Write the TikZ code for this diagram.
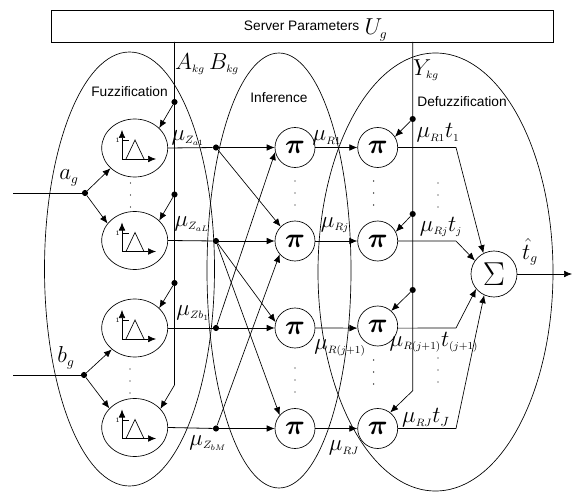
\documentclass[tikz,border=0pt]{standalone}
\usepackage{amsmath}
\usepackage[no-math]{fontspec}
\setmainfont{Liberation Sans}
\usetikzlibrary{arrows.meta,shapes.geometric}
\DeclareMathSizes{17.28}{17.28}{8}{6}
\newcommand{\bigsub}[1]{\mbox{\fontsize{10}{10}\selectfont$#1$}}

\tikzset{
  conn/.style={line width=0.5pt,-{Latex[length=6pt,width=5pt]}},
  wire/.style={line width=0.6pt},
  junction/.style={circle,fill=black,inner sep=0pt,minimum size=4.6pt},
  fuzzcell/.style={ellipse,draw,line width=0.5pt,inner sep=0pt,minimum width=49.5pt,minimum height=43.5pt},
  picell/.style={circle,draw,line width=0.5pt,inner sep=0pt,minimum size=30pt,font=\fontsize{20.74}{22}\selectfont},
  zone/.style={line width=0.5pt},
  lab/.style={inner sep=0pt,font=\fontsize{17.28}{18}\selectfont},
  title/.style={inner sep=0pt,font=\fontsize{10.3}{12}\selectfont},
  vdots/.style={fill=black,circle,inner sep=0pt,minimum size=1.1pt},
  pics/membfn/.style={code={
      \draw[conn] (-12.7,11) -- (-12.7,-18);
      \draw[conn] (-12.7,11) -- (21.3,11);
      \draw[line width=0.5pt] (-12.7,-7.5) -- (-5.7,-7.5);
      \draw[line width=0.5pt] (-8.7,11) -- (0.3,-8) -- (9.3,11);
      \node[inner sep=0pt,font=\fontsize{5}{5}\selectfont] at (-17,-7.5) {$1$};
    }},
  pics/threedots/.style={code={
      \node[vdots] at (0,0) {};
      \node[vdots] at (0,12) {};
      \node[vdots] at (0,24) {};
    }}
}

\begin{document}
\begin{tikzpicture}[x=0.75pt,y=-0.75pt]
  \useasboundingbox (0,0) rectangle (572,492);

  %ZONES
  \draw[zone] (129.5,269) ellipse [x radius=85,y radius=217];
  \draw[zone] (279,270.5) ellipse [x radius=72,y radius=217.5];
  \draw[zone] (435.5,272) ellipse [x radius=117.5,y radius=219];

  %SERVER BOX
  \node[draw,line width=0.6pt,minimum width=376.5pt,minimum height=24pt,inner sep=0pt] (server) at (302,26) {};
  \node[title,anchor=west] (servertext) at (243.7,26) {Server Parameters};
  \node[lab] (ug) at (376,30) {$U_{\bigsub{g}}$};

  %FUZZIFICATION
  \node[fuzzcell] (fa1) at (134.7,148) {};
  \node[fuzzcell] (fa2) at (134.7,240.5) {};
  \node[fuzzcell] (fb1) at (134.7,328) {};
  \node[fuzzcell] (fb2) at (134.7,427.5) {};
  \path (134.7,148) pic {membfn};
  \path (134.7,240.5) pic {membfn};
  \path (134.7,328) pic {membfn};
  \path (134.7,427.5) pic {membfn};
  \path (130.5,183) pic {threedots};
  \path (130,369) pic {threedots};

  %INFERENCE
  \node[picell] (p1) at (295,147.5) {$\boldsymbol{\pi}$};
  \node[picell] (p2) at (295,241) {$\boldsymbol{\pi}$};
  \node[picell] (p3) at (295,328) {$\boldsymbol{\pi}$};
  \node[picell] (p4) at (295,428.5) {$\boldsymbol{\pi}$};
  \path (295,181) pic {threedots};
  \path (295,368) pic {threedots};

  %DEFUZZIFICATION
  \node[picell] (q1) at (377.7,147.5) {$\boldsymbol{\pi}$};
  \node[picell] (q2) at (377.7,241) {$\boldsymbol{\pi}$};
  \node[picell] (q3) at (377.7,326) {$\boldsymbol{\pi}$};
  \node[picell] (q4) at (377.7,428.5) {$\boldsymbol{\pi}$};
  \path (373.7,181) pic {threedots};
  \path (373.7,360) pic {threedots};
  \path (438,183) pic {threedots};
  \path (438,358) pic {threedots};
  \node[circle,draw,line width=0.5pt,inner sep=0pt,minimum size=34.5pt,font=\fontsize{24.88}{26}\selectfont] (sum) at (494,274) {$\Sigma$};

  %INPUT a
  \coordinate (ina) at (13,193);
  \node[junction] (ja) at (85,193) {};
  \draw[wire] (ina) -- (ja);
  \draw[conn] (ja) -- (fa1.220);
  \draw[conn] (ja) -- (fa2.148);

  %INPUT b
  \coordinate (inb) at (13,375);
  \node[junction] (jb) at (84,375) {};
  \draw[wire] (inb) -- (jb);
  \draw[conn] (jb) -- (fb1.223);
  \draw[conn] (jb) -- (fb2.143);

  %PARAMETER LINE A B
  \coordinate (abtop) at (174.5,42);
  \coordinate (abend) at (174.5,385);
  \node[junction] (ab1) at (174.5,102) {};
  \node[junction] (ab2) at (174.5,194.5) {};
  \node[junction] (ab3) at (174.5,283) {};
  \draw[conn] (abtop) -- (abend) -- (fb2.36);
  \draw[conn] (ab1) -- (fa1.39);
  \draw[conn] (ab2) -- (fa2.39);
  \draw[conn] (ab3) -- (fb1.39);

  %PARAMETER LINE Y
  \coordinate (ytop) at (412.7,42);
  \coordinate (yend) at (412.7,390.7);
  \node[junction] (y1) at (412.7,119) {};
  \node[junction] (y2) at (412.7,214) {};
  \node[junction] (y3) at (412.7,290) {};
  \draw[conn] (ytop) -- (yend) -- (q4.52);
  \draw[conn] (y1) -- (q1.32);
  \draw[conn] (y2) -- (q2.27);
  \draw[conn] (y3) -- (q3.48);

  %FUZZY OUTPUTS
  \node[junction] (j1) at (216,147.5) {};
  \node[junction] (j2) at (216,241) {};
  \node[junction] (j3) at (216,328) {};
  \node[junction] (j4) at (216,428.5) {};
  \draw[wire] (fa1.east) -- (j1);
  \draw[wire] (fa2.east) -- (j2);
  \draw[wire] (fb1.east) -- (j3);
  \draw[wire] (fb2.east) -- (j4);
  \draw[conn] (j1) -- (p1);
  \draw[conn] (j2) -- (p2);
  \draw[conn] (j3) -- (p3);
  \draw[conn] (j4) -- (p4);
  \draw[conn] (j1) -- (p2.135);
  \draw[conn] (j2) -- (p3.163);
  \draw[conn] (j2) -- (p4.139);
  \draw[conn] (j3) -- (p1.193);
  \draw[conn] (j4) -- (p2.221);

  %RULE LINKS
  \draw[conn] (p1) -- (q1);
  \draw[conn] (p2) -- (q2);
  \draw[conn] (p3.east) -- (q3.186);
  \draw[conn] (p4) -- (q4);

  %TO SUM
  \coordinate (c1) at (456,147.5);
  \coordinate (c2) at (456,241);
  \coordinate (c3) at (456,328);
  \coordinate (c4) at (456,428.5);
  \coordinate (out) at (572,274);
  \draw[conn] (q1.east) -- (c1) -- (sum.117);
  \draw[conn] (q2.east) -- (c2) -- (sum.145);
  \draw[conn] (q3.354) -- (c3) -- (sum.220);
  \draw[conn] (q4.east) -- (c4) -- (sum.245);
  \draw[conn] (sum.east) -- (out);

  %LABELS
  \node[title] (fuzztext) at (129.5,92) {Fuzzification};
  \node[title] (inftext) at (279,98) {Inference};
  \node[title] (deftext) at (462,102) {Defuzzification};
  \node[lab] (akg) at (190,64) {$A_{kg}$};
  \node[lab] (bkg) at (224,64) {$B_{kg}$};
  \node[lab] (ykg) at (426,70) {$Y_{kg}$};
  \node[lab] (ag) at (69,178) {$a_{\bigsub{g}}$};
  \node[lab] (bg) at (66,358) {$b_{\bigsub{g}}$};
  \node[lab] (mza1) at (188,138) {$\mu_{Z_{a1}}$};
  \node[lab] (mzal) at (192,224) {$\mu_{Z_{aL}}$};
  \node[lab] (mzb1) at (193,313) {$\mu_{Zb_1}$};
  \node[lab] (mzbm) at (208,443) {$\mu_{Z_{bM}}$};
  \node[lab] (mr1) at (327,138) {$\mu_{R1}$};
  \node[lab] (mrj) at (335,225) {$\mu_{Rj}$};
  \node[lab] (mrj1) at (340,348) {$\mu_{R(j+1)}$};
  \node[lab] (mrbig) at (344,448) {$\mu_{RJ}$};
  \node[lab] (mt1) at (438,133) {$\mu_{R1}t_1$};
  \node[lab] (mtj) at (441,227) {$\mu_{Rj}t_j$};
  \node[lab] (mtj1) at (434,342) {$\mu_{R(j+1)}t_{(j+1)}$};
  \node[lab] (mtbig) at (426,418) {$\mu_{RJ}t_{\bigsub{J}}$};
  \node[lab] (that) at (530,252) {$\hat{t}_{\bigsub{g}}$};
\end{tikzpicture}
\end{document}
